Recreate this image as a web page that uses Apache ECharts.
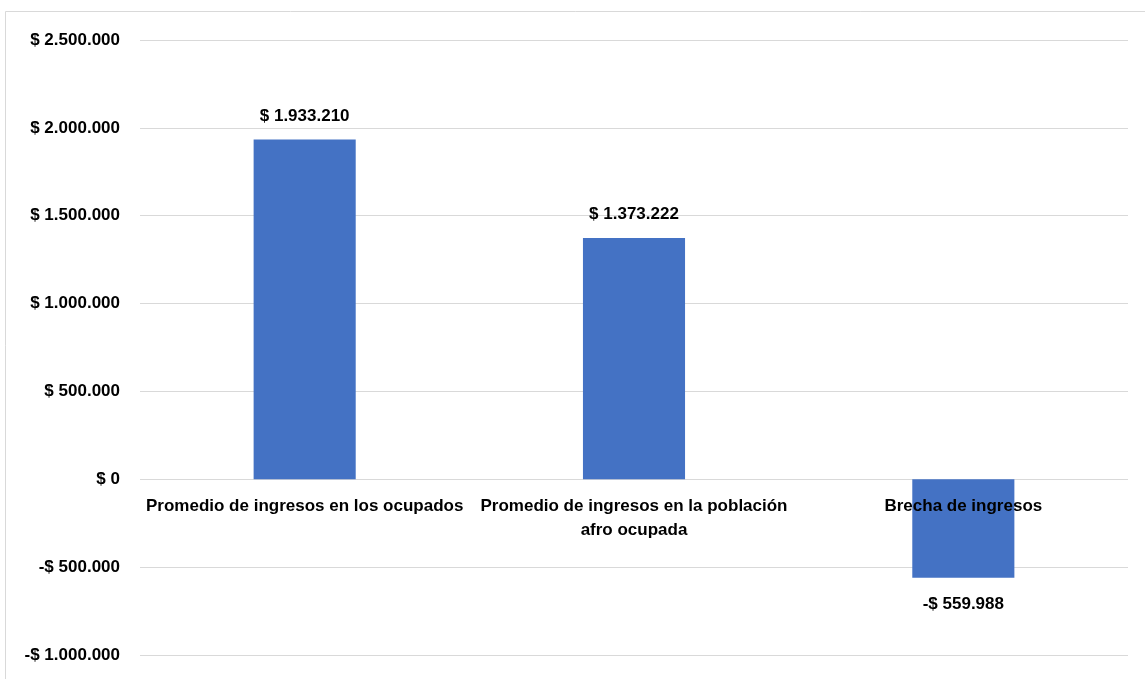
<!DOCTYPE html>
<html>
<head>
<meta charset="utf-8">
<script src="https://cdn.jsdelivr.net/npm/echarts@6/dist/echarts.min.js"></script>
<style>
html,body{margin:0;padding:0;background:#fff;}
#chart{width:1145px;height:679px;}
</style>
</head>
<body>
<div id="chart"></div>
<script>
const categories = [
  "Promedio de ingresos en los ocupados",
  "Promedio de ingresos en la población\nafro ocupada",
  "Brecha de ingresos"
];
const values = [1933210, 1373222, -559988];
const yMin = -1000000, yMax = 2500000, yStep = 500000;

const FONT = '"Liberation Sans Narrow","Arial Narrow","Liberation Sans",Arial,sans-serif';

function fmt(v) {
  const neg = v < 0;
  const s = Math.abs(Math.round(v)).toString().replace(/\B(?=(\d{3})+(?!\d))/g, '.');
  return (neg ? '-$ ' : '$ ') + s;
}

const chart = echarts.init(document.getElementById('chart'), null, {renderer: 'canvas'});
chart.setOption({
  backgroundColor: '#ffffff',
  animation: false,
  grid: {left: 140, right: 17, top: 40, bottom: 24, containLabel: false, outerBoundsMode: 'none'},
  graphic: [
    {type: 'line', shape: {x1: 5.5, y1: 11.5, x2: 1145, y2: 11.5}, style: {stroke: '#d9d9d9', lineWidth: 1}},
    {type: 'line', shape: {x1: 5.5, y1: 11.5, x2: 5.5, y2: 679}, style: {stroke: '#d9d9d9', lineWidth: 1}}
  ],
  xAxis: {
    type: 'category',
    data: categories,
    z: 10,
    position: 'bottom',
    offset: 0,
    axisLine: {show: false, onZero: false},
    axisTick: {show: false},
    axisLabel: {
      interval: 0,
      margin: 15,
      color: '#000',
      fontFamily: FONT,
      fontWeight: 'bold',
      fontSize: 17,
      lineHeight: 24
    }
  },
  yAxis: {
    type: 'value',
    min: yMin, max: yMax, interval: yStep,
    axisLine: {show: false},
    axisTick: {show: false},
    splitLine: {lineStyle: {color: '#d9d9d9', width: 1}},
    axisLabel: {
      margin: 20,
      color: '#000',
      fontFamily: FONT,
      fontWeight: 'bold',
      fontSize: 17,
      formatter: fmt
    }
  },
  series: [{
    type: 'bar',
    barWidth: '31%',
    itemStyle: {color: '#4472C4'},
    data: values.map(v => ({
      value: v,
      label: {position: v < 0 ? 'bottom' : 'top', distance: v < 0 ? 18 : 15}
    })),
    label: {
      show: true,
      color: '#000',
      fontFamily: FONT,
      fontWeight: 'bold',
      fontSize: 17,
      formatter: p => fmt(p.value)
    }
  }]
});
// Place the category axis on the zero line (as in the reference)
const zeroY = chart.convertToPixel({yAxisIndex: 0}, 0);
const bottomY = chart.convertToPixel({yAxisIndex: 0}, yMin);
chart.setOption({xAxis: {offset: -(bottomY - zeroY)}});
</script>
</body>
</html>
